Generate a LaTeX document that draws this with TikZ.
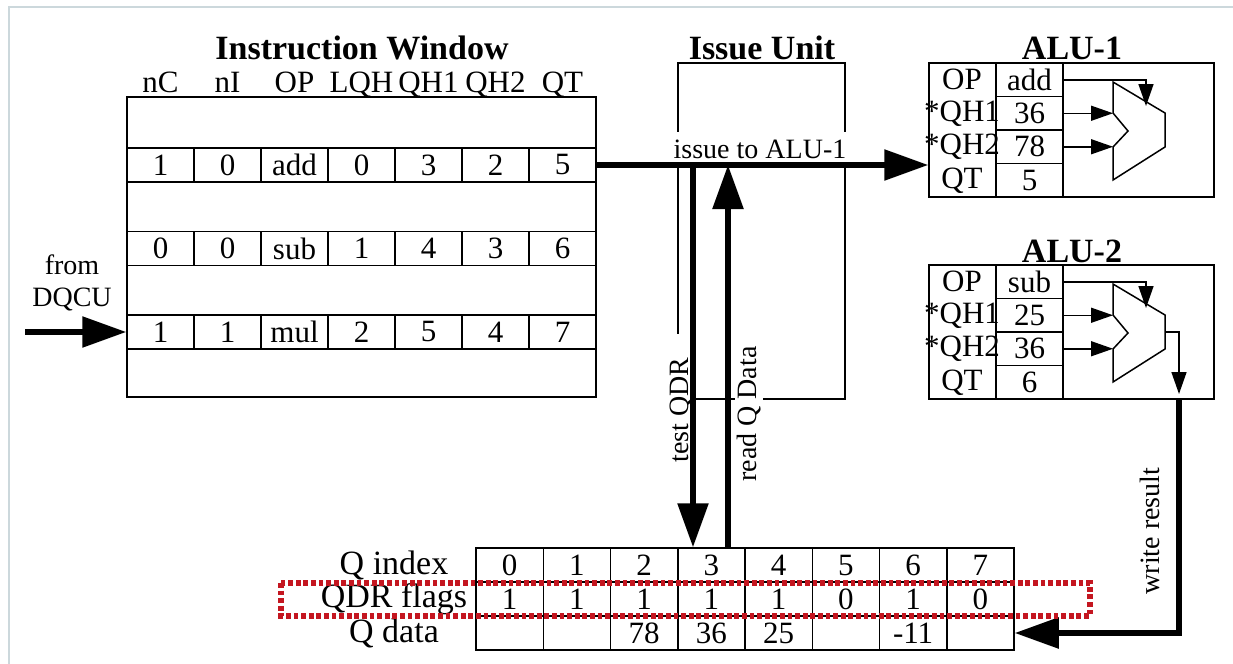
\documentclass[tikz,border=0pt]{standalone}
\usepackage{fontspec}
\setmainfont{Liberation Serif}
\usetikzlibrary{arrows.meta}
\definecolor{flagred}{RGB}{196,22,32}
\definecolor{framegray}{RGB}{204,216,220}

\begin{document}
\begin{tikzpicture}[
    x=0.5pt, y=-0.5pt,
    box/.style={draw, line width=0.75pt},
    cell/.style={box, minimum width=33.5pt, minimum height=17pt, inner sep=0pt,
                 font=\fontsize{15.5}{18}\selectfont},
    alucell/.style={cell, minimum height=16.75pt},
    alutext/.style={inner sep=0pt, font=\fontsize{15.5}{18}\selectfont},
    qcell/.style={cell, minimum width=33.625pt},
    qtag/.style={inner sep=0pt, font=\fontsize{17}{20}\selectfont},
    title/.style={anchor=base, font=\fontsize{17}{20}\selectfont\bfseries},
    head/.style={anchor=base, font=\fontsize{15.5}{18}\selectfont},
    tag/.style={fill=white, inner sep=1pt, font=\fontsize{14}{16}\selectfont},
    bigarrow/.style={-{Triangle[length=22pt, width=15pt]}, line width=2.8pt},
    smallarrow/.style={-{Triangle[length=11pt, width=7.5pt]}, line width=0.75pt},
    flagbox/.style={draw=flagred, line width=2.6pt, dash pattern=on 2.4pt off 1.4pt}
]
\useasboundingbox (0,0) rectangle (1233,664);
\draw[framegray, line width=1pt] (1233,7) -- (9,7) -- (9,664);

%% Instruction window
\node[title] (iwtitle) at (362,60) {Instruction Window};
\node[box, minimum width=234.5pt, minimum height=150pt, inner sep=0pt] (iw) at (361.5,247) {};
\foreach \h [count=\i] in {nC,nI,OP,LQH,QH1,QH2,QT}
    \node[head] (head\i) at ({93.5+67*\i},92) {\h};
\foreach \v [count=\i] in {1,0,add,0,3,2,5}
    \node[cell] (add\i) at ({93.5+67*\i},165) {\v};
\foreach \v [count=\i] in {0,0,sub,1,4,3,6}
    \node[cell] (sub\i) at ({93.5+67*\i},248.5) {\v};
\foreach \v [count=\i] in {1,1,mul,2,5,4,7}
    \node[cell] (mul\i) at ({93.5+67*\i},332) {\v};

\node[tag, fill=none, align=center] (dqcu) at (72,283) {from\\DQCU};
\coordinate (dqcuin) at (25,332);

%% Issue unit
\node[title] (iutitle) at (762,59) {Issue Unit};
\node[box, minimum width=83.5pt, minimum height=168pt, inner sep=0pt] (issue) at (761.5,231) {};
\node[tag, inner ysep=4pt] (issuetxt) at (760,149) {issue to ALU-1};
\node[tag, rotate=90, inner xsep=12pt] (testlbl) at (681,410) {test QDR};
\node[tag, rotate=90, inner xsep=6pt] (readlbl) at (749,414) {read Q Data};
\coordinate (tq) at (693,165);
\coordinate (rq) at (728,165);

%% ALUs
\foreach \n/\dy/\op/\qa/\qb/\qt in {1/0/add/36/78/5, 2/202/sub/25/36/6} {
    \node[title] (alutitle\n) at (1072,{60+\dy}) {ALU-\n};
    \node[box, minimum width=142.5pt, minimum height=67pt, inner sep=0pt] (alu\n) at (1071.5,{130+\dy}) {};
    \foreach \t [count=\i] in {OP,*QH1,*QH2,QT}
        \node[alutext] (a\n l\i) at (962,{46.25+33.5*\i+\dy}) {\t};
    \foreach \v [count=\i] in {\op,\qa,\qb,\qt}
        \node[alucell] (a\n v\i) at (1029.5,{46.25+33.5*\i+\dy}) {\v};
    \draw[box] (1113,{82+\dy}) -- (1165,{113+\dy}) -- (1165,{147+\dy}) -- (1113,{180+\dy})
        -- (1113,{147+\dy}) -- (1128,{131+\dy}) -- (1113,{113+\dy}) -- cycle;
    \coordinate (alu\n a) at (1113,{113+\dy});
    \coordinate (alu\n b) at (1113,{147+\dy});
    \coordinate (alu\n op) at (1146,{106+\dy});
    \draw[smallarrow] (a\n v1.east) -| (alu\n op);
    \draw[smallarrow] (a\n v2.east) -- (a\n v2.east -| alu\n a);
    \draw[smallarrow] (a\n v3.east) -- (a\n v3.east -| alu\n b);
}
\coordinate (alu2out) at (1165,332);
\coordinate (alu2drop) at (1179,394);
\node[tag, rotate=90] (writelbl) at (1150,531) {write result};

%% Q registers
\foreach \v [count=\i] in {0,1,2,3,4,5,6,7}
    \node[qcell] (qi\i) at ({442.375+67.25*\i},565) {\v};
\foreach \v [count=\i] in {1,1,1,1,1,0,1,0}
    \node[qcell] (qf\i) at ({442.375+67.25*\i},599) {\v};
\foreach \v [count=\i] in {{},{},78,36,25,{},-11,{}}
    \node[qcell] (qd\i) at ({442.375+67.25*\i},633) {\v};
\node[qtag] (qlidx) at (394,565) {Q index};
\node[qtag] (qlflag) at (394,599) {QDR flags};
\node[qtag] (qldata) at (394,633) {Q data};

%% Arrows
\draw[bigarrow] (dqcuin) -- (mul1.west);
\draw[bigarrow] (add7.east) -- (add7.east -| alu1.west);
\draw[bigarrow] (tq) -- (tq |- qi4.north);
\draw[bigarrow] (rq |- qi4.north) -- (rq);
\draw[smallarrow] (alu2out) -| (alu2drop);
\draw[bigarrow] (alu2drop |- alu2.south) |- (qd8.east);

%% QDR flags highlight
\draw[flagbox] (281,583) rectangle (1090,616);

\end{tikzpicture}
\end{document}
